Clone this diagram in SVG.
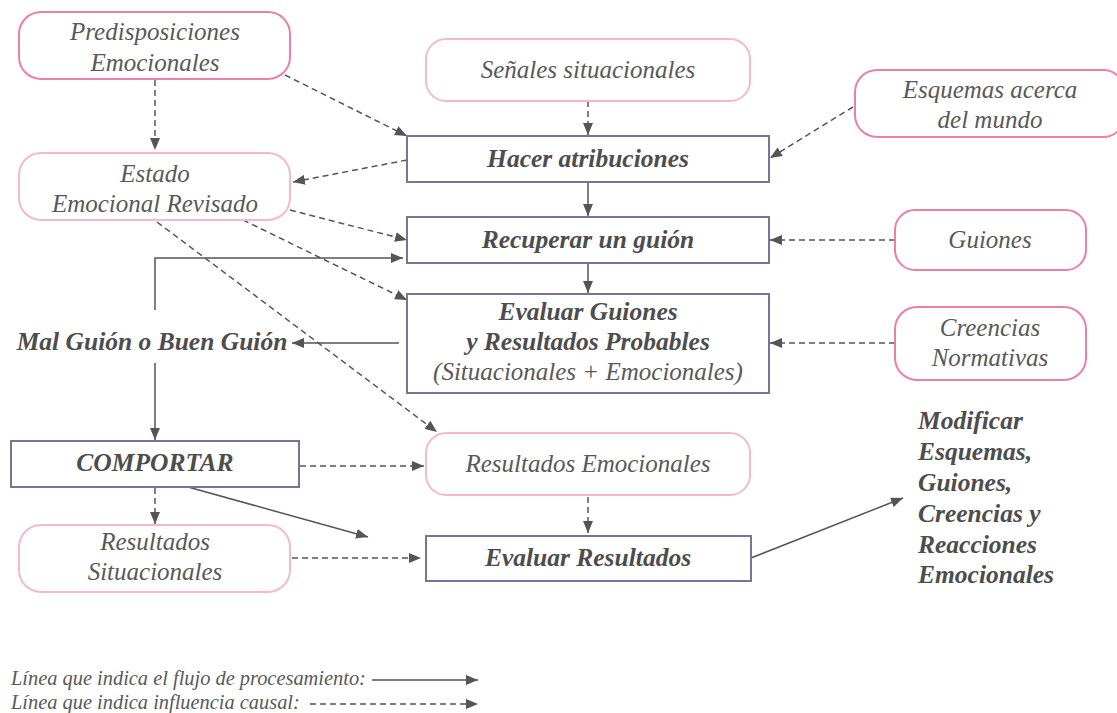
<svg xmlns="http://www.w3.org/2000/svg" width="1117" height="713" viewBox="0 0 1117 713">
<defs>
<marker id="ah" viewBox="0 0 12 10" refX="12" refY="5" markerWidth="12" markerHeight="10" markerUnits="userSpaceOnUse" orient="auto">
<path d="M0,0 L12,5 L0,10 Z" fill="#555"/>
</marker>
<style>
.rd{fill:#fff;stroke:#ec7fa6;stroke-width:2}
.rl{fill:#fff;stroke:#f5b9c9;stroke-width:2}
.bx{fill:#fff;stroke:#7a7298;stroke-width:2}
text{font-family:'Liberation Serif','Times New Roman',serif;font-style:italic;fill:#595959}
.t{font-size:25px;text-anchor:middle}
.b{font-weight:bold;font-size:25.5px;fill:#4d4d4d;text-anchor:middle}
.m{font-weight:bold;font-size:25.5px;fill:#4d4d4d}
.lg{font-size:20.4px}
.s{fill:none;stroke:#555;stroke-width:1.5;marker-end:url(#ah)}
.d{fill:none;stroke:#555;stroke-width:1.5;stroke-dasharray:6,4;marker-end:url(#ah)}
</style>
</defs>
<rect width="1117" height="713" fill="#fff"/>
<g id="connectors">
<line class="d" x1="285" y1="75" x2="407" y2="136"/>
<line class="d" x1="155" y1="80" x2="155" y2="150"/>
<line class="d" x1="588" y1="101" x2="588" y2="135"/>
<line class="d" x1="853" y1="107" x2="770" y2="158"/>
<line class="d" x1="407" y1="160" x2="293" y2="182"/>
<line class="d" x1="290" y1="210" x2="407" y2="240"/>
<line class="d" x1="243" y1="220" x2="407" y2="300"/>
<line class="d" x1="157" y1="222" x2="437" y2="432"/>
<line class="d" x1="895" y1="240" x2="770" y2="240"/>
<line class="d" x1="895" y1="343" x2="770" y2="343"/>
<line class="d" x1="300" y1="466" x2="424" y2="466"/>
<line class="d" x1="155" y1="488" x2="155" y2="524"/>
<line class="d" x1="292" y1="558" x2="421" y2="558"/>
<line class="d" x1="588" y1="497" x2="588" y2="533"/>
<line class="s" x1="588" y1="182" x2="588" y2="216"/>
<line class="s" x1="588" y1="264" x2="588" y2="293"/>
<line class="s" x1="399" y1="343" x2="292" y2="343"/>
<polyline class="s" points="155,310 155,258 403,258"/>
<line class="s" x1="155" y1="363" x2="155" y2="440"/>
<line class="s" x1="188" y1="487" x2="368" y2="537"/>
<line class="s" x1="751" y1="558" x2="903" y2="498"/>
</g>
<g id="predisposiciones">
<rect class="rd" x="19" y="12" width="271" height="67" rx="22"/>
<text class="t" x="155" y="40">Predisposiciones</text>
<text class="t" x="155" y="71">Emocionales</text>
</g>
<g id="senales">
<rect class="rl" x="426" y="39" width="324" height="62" rx="20"/>
<text class="t" x="588" y="78">Señales situacionales</text>
</g>
<g id="esquemas">
<rect class="rd" x="855" y="70" width="270" height="67" rx="22"/>
<text class="t" x="990" y="98">Esquemas acerca</text>
<text class="t" x="990" y="128">del mundo</text>
</g>
<g id="estado">
<rect class="rl" x="19" y="153" width="271" height="67" rx="22"/>
<text class="t" x="155" y="182">Estado</text>
<text class="t" x="155" y="212">Emocional Revisado</text>
</g>
<g id="hacer">
<rect class="bx" x="407" y="136" width="362" height="46"/>
<text class="b" x="588" y="167">Hacer atribuciones</text>
</g>
<g id="recuperar">
<rect class="bx" x="407" y="217" width="362" height="46"/>
<text class="b" x="588" y="248">Recuperar un guión</text>
</g>
<g id="evaluarguiones">
<rect class="bx" x="407" y="294" width="362" height="99"/>
<text class="b" x="588" y="320">Evaluar Guiones</text>
<text class="b" x="588" y="350">y Resultados Probables</text>
<text class="t" x="588" y="380">(Situacionales + Emocionales)</text>
</g>
<g id="guiones">
<rect class="rd" x="895" y="210" width="191" height="60" rx="20"/>
<text class="t" x="990" y="248">Guiones</text>
</g>
<g id="creencias">
<rect class="rd" x="895" y="307" width="191" height="73" rx="22"/>
<text class="t" x="990" y="336">Creencias</text>
<text class="t" x="990" y="366">Normativas</text>
</g>
<g id="malguion">
<text class="b" x="152" y="350">Mal Guión o Buen Guión</text>
</g>
<g id="comportar">
<rect class="bx" x="11" y="441" width="288" height="46"/>
<text class="b" x="155" y="471">COMPORTAR</text>
</g>
<g id="resultadosemocionales">
<rect class="rl" x="426" y="433" width="324" height="62" rx="20"/>
<text class="t" x="588" y="472">Resultados Emocionales</text>
</g>
<g id="resultadossituacionales">
<rect class="rl" x="19" y="525" width="271" height="67" rx="22"/>
<text class="t" x="155" y="550">Resultados</text>
<text class="t" x="155" y="580">Situacionales</text>
</g>
<g id="evaluarresultados">
<rect class="bx" x="426" y="536" width="325" height="45"/>
<text class="b" x="588" y="566">Evaluar Resultados</text>
</g>
<g id="modificar">
<text class="m" x="918" y="429">Modificar</text>
<text class="m" x="918" y="460">Esquemas,</text>
<text class="m" x="918" y="491">Guiones,</text>
<text class="m" x="918" y="522">Creencias y</text>
<text class="m" x="918" y="553">Reacciones</text>
<text class="m" x="918" y="583">Emocionales</text>
</g>
<g id="legend">
<text class="lg" x="11" y="685">Línea que indica el flujo de procesamiento:</text>
<line class="s" x1="372" y1="680" x2="478" y2="680"/>
<text class="lg" x="11" y="709">Línea que indica influencia causal:</text>
<line class="d" x1="310" y1="704" x2="478" y2="704"/>
</g>
</svg>
